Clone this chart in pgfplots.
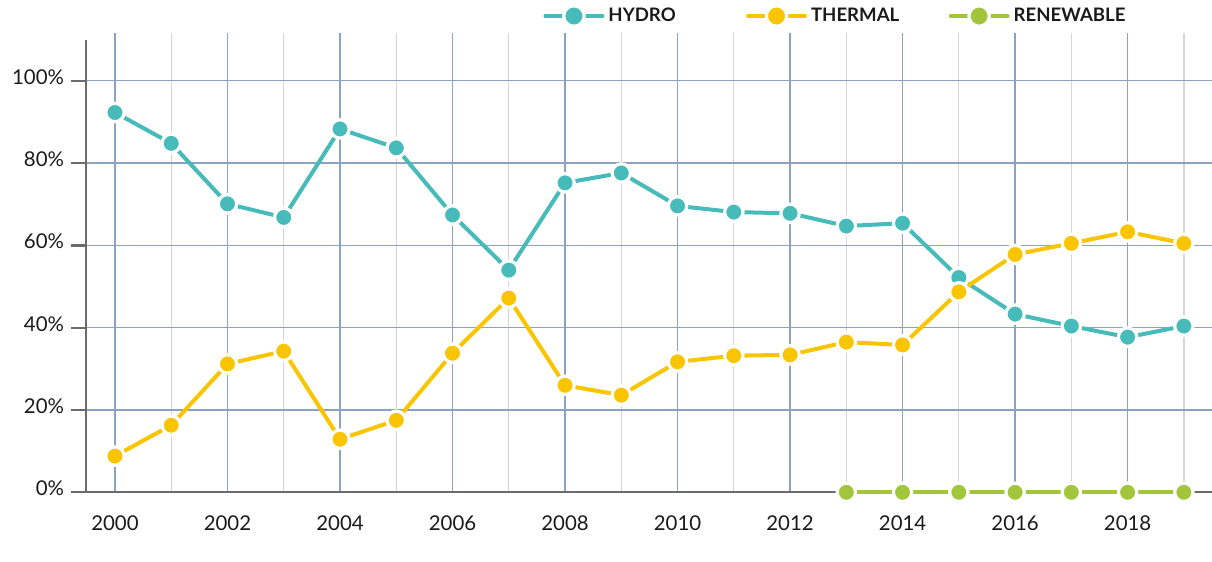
\documentclass[border=0pt]{standalone}
\usepackage{fontspec}
\setmainfont{Lato}
\usepackage{pgfplots}
\pgfplotsset{compat=1.18}

\definecolor{hydro}{RGB}{71,187,186}
\definecolor{thermal}{RGB}{249,196,0}
\definecolor{renew}{RGB}{162,198,59}
\definecolor{gridmaj}{RGB}{140,162,194}
\definecolor{gridmin}{RGB}{212,212,212}
\definecolor{axisgray}{RGB}{108,106,106}
\definecolor{txt}{RGB}{26,26,26}

\pgfplotsset{
  legend image code/.code={
    \draw[#1, line width=2pt, line cap=round] (0pt,0pt) -- (28.5pt,0pt);
    \fill[#1, draw=white, line width=1.6pt] (14.25pt,0pt) circle (5.1pt);
  },
  series/.style={line width=2pt, mark=*, mark size=4.6pt,
    mark options={draw=white, line width=1.6pt, fill=#1}, color=#1},
}

\begin{document}
\begin{tikzpicture}
\begin{axis}[
  scale only axis,
  width=563pt, height=229.4pt,
  at={(0,0)}, anchor=south west,
  xmin=1999.485, xmax=2019.5,
  ymin=0, ymax=111.5,
  clip=false,
  axis line style={draw=none},
  xtick={2000,2002,...,2018},
  minor xtick={2001,2003,...,2019},
  ytick={0,20,...,100},
  xmajorgrids, xminorgrids, ymajorgrids,
  major x grid style={gridmaj, line width=0.65pt},
  minor x grid style={gridmin, line width=0.65pt},
  major y grid style={gridmaj, line width=0.65pt},
  tick pos=left,
  tick align=outside,
  major tick length=7.5pt,
  minor tick length=0pt,
  xtick style={draw=none},
  ytick style={axisgray, line width=1.2pt},
  /pgf/number format/assume math mode=true,
  /pgf/number format/1000 sep={},
  tick label style={font=\fontsize{10.2}{12}\selectfont, text=txt},
  yticklabel={\pgfmathprintnumber{\tick}\%},
  yticklabel style={anchor=east, yshift=2pt},
  xticklabel style={anchor=base, yshift=-11.5pt},
  legend columns=3,
  legend style={draw=none, fill=none, inner sep=0pt,
    at={(0.4059,1.0381)}, anchor=west,
    font=\fontsize{9.3}{11}\selectfont\bfseries,
    text=txt,
    /tikz/every odd column/.append style={column sep=0pt},
    /tikz/every even column/.append style={column sep=6pt}},
]
\draw[axisgray, line width=1.2pt] (axis cs:1999.485,0) -- (axis cs:1999.485,110);
\draw[axisgray, line width=1.2pt] ([xshift=-7.5pt]axis cs:1999.485,0) -- (axis cs:2019.5,0);

\addplot[series=hydro] coordinates {
 (2000,92.3) (2001,84.8) (2002,70.1) (2003,66.8) (2004,88.3) (2005,83.7)
 (2006,67.4) (2007,54.0) (2008,75.2) (2009,77.6) (2010,69.6) (2011,68.1)
 (2012,67.8) (2013,64.7) (2014,65.4) (2015,52.2) (2016,43.3) (2017,40.4)
 (2018,37.7) (2019,40.4)};
\addlegendentry{\makebox[60.8pt][l]{HYDRO}}

\addplot[series=thermal] coordinates {
 (2000,8.8) (2001,16.3) (2002,31.2) (2003,34.3) (2004,12.9) (2005,17.5)
 (2006,33.8) (2007,47.2) (2008,26.0) (2009,23.6) (2010,31.7) (2011,33.2)
 (2012,33.4) (2013,36.5) (2014,35.8) (2015,48.7) (2016,57.8) (2017,60.5)
 (2018,63.3) (2019,60.5)};
\addlegendentry{\makebox[60.8pt][l]{THERMAL}}

\addplot[series=renew] coordinates {
 (2013,0) (2014,0) (2015,0) (2016,0) (2017,0) (2018,0) (2019,0)};
\addlegendentry{\makebox[60.8pt][l]{RENEWABLE}}
\end{axis}
\pgfresetboundingbox
\useasboundingbox (-43pt,-34.85pt) rectangle (563pt,246.15pt);
\end{tikzpicture}
\end{document}
